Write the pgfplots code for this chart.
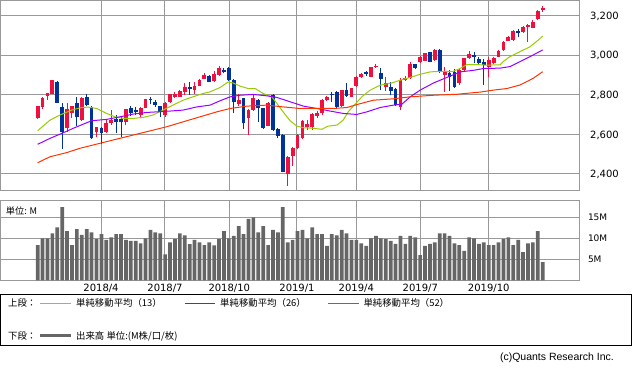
\documentclass[border=0pt]{standalone}
\usepackage{fontspec}
\setmainfont{DejaVu Sans}
\newfontfamily\jp{Noto Sans CJK JP}
\newfontfamily\lib{Liberation Sans}
\usepackage{pgfplots}
\usepackage{pgfplotstable}
\pgfplotsset{compat=1.18}
\definecolor{upred}{HTML}{F01040}
\definecolor{dnblue}{HTML}{003399}
\definecolor{maA}{HTML}{99CC00}
\definecolor{maB}{HTML}{9900FF}
\definecolor{maC}{HTML}{FF3300}
\definecolor{volc}{HTML}{666666}
\definecolor{gridc}{HTML}{999999}

\pgfplotstableread{
i o h l c
1 2681 2746 2679 2744
2 2740 2788 2730 2786
3 2796 2811 2774 2809
4 2806 2877 2804 2875
7 2631 2757 2612 2730
8 2707 2746 2681 2744
10 2673 2791 2668 2785
13 2612 2640 2585 2637
15 2612 2673 2609 2659
16 2656 2723 2648 2673
19 2664 2730 2647 2727
22 2698 2740 2681 2735
23 2735 2781 2733 2779
27 2697 2762 2690 2757
28 2762 2806 2760 2803
29 2791 2813 2783 2804
30 2791 2824 2789 2821
31 2816 2861 2800 2841
33 2824 2866 2805 2846
34 2846 2878 2843 2875
35 2880 2912 2878 2900
37 2870 2922 2866 2905
38 2900 2945 2897 2934
42 2752 2803 2745 2772
44 2681 2726 2597 2723
45 2723 2803 2720 2782
48 2644 2763 2641 2760
52 2398 2490 2341 2487
53 2492 2536 2442 2533
54 2533 2600 2525 2597
55 2580 2672 2575 2669
56 2639 2673 2622 2651
57 2636 2706 2622 2703
58 2693 2718 2683 2707
59 2710 2777 2700 2774
60 2774 2794 2771 2791
63 2744 2827 2741 2824
65 2791 2836 2788 2833
66 2845 2895 2842 2892
67 2889 2908 2886 2905
69 2892 2942 2889 2939
70 2939 2956 2936 2947
72 2838 2889 2821 2858
75 2740 2884 2723 2875
76 2875 2895 2872 2887
77 2884 2964 2880 2954
79 2964 2996 2960 2993
80 2973 3013 2970 3010
82 2976 3030 2973 3027
84 2900 2942 2816 2920
87 2858 2930 2852 2926
88 2926 2988 2920 2985
89 2985 3021 2982 3006
93 2942 2993 2889 2976
94 2959 2991 2956 2988
95 2993 3026 2990 3023
96 3027 3072 3024 3069
97 3074 3097 3071 3094
98 3077 3126 3074 3123
100 3116 3147 3113 3144
101 3144 3157 3069 3151
102 3139 3180 3136 3170
103 3182 3227 3179 3224
104 3229 3251 3220 3240
}\up

\pgfplotstableread{
i o h l c
5 2865 2870 2758 2760
6 2739 2760 2528 2612
9 2760 2791 2643 2686
11 2789 2803 2745 2749
12 2739 2742 2578 2583
14 2634 2637 2550 2606
17 2678 2698 2606 2663
18 2676 2690 2588 2661
20 2735 2744 2695 2707
21 2723 2740 2698 2712
24 2779 2791 2752 2772
25 2765 2774 2740 2749
26 2744 2746 2690 2715
32 2838 2863 2799 2829
36 2897 2900 2863 2866
39 2925 2934 2909 2917
40 2934 2942 2870 2875
41 2875 2878 2707 2765
43 2782 2786 2627 2656
46 2774 2777 2664 2732
47 2732 2735 2628 2631
49 2799 2803 2619 2622
50 2627 2630 2580 2594
51 2597 2600 2408 2412
61 2806 2816 2765 2801
62 2816 2819 2735 2740
64 2824 2858 2791 2796
68 2914 2920 2895 2905
71 2909 2934 2824 2879
73 2838 2867 2799 2821
74 2830 2833 2745 2749
78 2954 2957 2930 2934
81 3015 3018 2964 2967
83 3027 3030 2912 2917
85 2909 2926 2820 2892
86 2917 2930 2835 2841
90 3001 3018 2959 2990
91 2980 2990 2950 2959
92 2967 2980 2850 2950
99 3123 3131 3091 3111
}\dn

\pgfplotstableread{
i v
1 8.4
2 10.0
3 10.0
4 11.2
5 12.6
6 17.4
7 11.7
8 8.4
9 12.2
10 10.8
11 12.2
12 11.4
13 9.8
14 11.0
15 9.6
16 10.2
17 11.0
18 11.0
19 9.6
20 9.4
21 9.4
22 8.8
23 10.0
24 12.0
25 11.4
26 11.2
27 6.2
28 9.0
29 9.8
30 11.2
31 10.7
32 8.6
33 9.6
34 9.0
35 8.4
36 9.0
37 8.3
38 9.8
39 11.7
40 10.0
41 10.6
42 12.9
43 11.0
44 14.6
45 15.0
46 11.4
47 12.9
48 8.4
49 12.0
50 11.4
51 17.4
52 9.0
53 9.6
54 11.7
55 12.0
56 10.0
57 12.6
58 11.0
59 11.0
60 8.2
61 11.0
62 10.7
63 12.0
64 11.2
65 9.6
66 9.6
67 8.8
68 8.2
69 10.0
70 10.6
71 10.0
72 9.8
73 9.4
74 8.7
75 10.6
76 8.7
77 10.6
78 10.2
79 6.0
80 8.2
81 8.7
82 9.0
83 11.2
84 11.2
85 10.6
86 8.8
87 8.4
88 7.0
89 10.2
90 10.0
91 8.7
92 9.0
93 8.4
94 8.4
95 9.0
96 9.8
97 10.2
98 8.4
99 9.6
100 6.7
101 8.8
102 9.0
103 11.7
104 4.3
}\vol

\pgfplotsset{candle/.style={only marks, mark=none, mark size=0pt, mark options={draw=none, fill=none},
  error bars/.cd, y dir=plus, y explicit, error mark=none}}

\begin{document}
\begin{tikzpicture}
\useasboundingbox (0pt,0pt) rectangle (633pt,-371pt);
\begin{axis}[
  at={(0.5pt,-0.5pt)}, anchor=north west,
  scale only axis, width=578.8pt, height=190.2pt,
  xmin=-6.58, xmax=111.47, ymin=2315.6, ymax=3276.8,
  axis line style={draw=gridc, line width=1pt},
  grid=major, major grid style={draw=gridc, line width=1pt},
  xtick={13.92,26.97,40.08,53.89,65.99,79.04,93.0},
  xticklabels={},
  ytick={2400,2600,2800,3000,3200},
  yticklabel pos=right,
  major tick length=0pt,
  yticklabel style={anchor=base west, inner sep=0pt, xshift=10.7pt, yshift=-3.6pt, font=\fontsize{10}{12}\selectfont},
  /pgf/number format/assume math mode=true,
  /pgf/number format/1000 sep={,},
  scaled y ticks=false,
  clip=true,
]
\addplot[upred, candle, error bar style={line width=1pt, draw=upred}]
  table[x=i, y=l, y error expr=\thisrow{h}-\thisrow{l}] {\up};
\addplot[upred, candle, error bar style={line width=3.8pt, draw=upred}]
  table[x=i, y=o, y error expr=\thisrow{c}-\thisrow{o}] {\up};
\addplot[dnblue, candle, error bar style={line width=1pt, draw=dnblue}]
  table[x=i, y=l, y error expr=\thisrow{h}-\thisrow{l}] {\dn};
\addplot[dnblue, candle, error bar style={line width=3.8pt, draw=dnblue}]
  table[x=i, y=c, y error expr=\thisrow{o}-\thisrow{c}] {\dn};
\addplot[maA, mark=none, line width=1pt] coordinates {
(1,2619) (3.5,2672) (5.55,2698) (7.94,2723) (9.98,2736) (11.27,2738) (13.04,2731) (15.08,2706) (16.78,2689) (18.47,2681) (20.45,2681) (22.49,2686) (24.53,2698) (26.57,2723) (28.61,2748) (30.65,2773) (32.69,2790) (34.73,2807) (36.16,2815) (38.2,2837) (39.84,2865) (40.86,2860) (42.29,2844) (43.92,2832) (45.35,2832) (46.98,2807) (48.76,2790) (49.78,2757) (51.06,2714) (52.49,2669) (53.86,2642) (55.14,2634) (57.18,2631) (58.96,2626) (60.24,2642) (62.02,2647) (63.31,2672) (64.33,2714) (65.76,2753) (67.12,2790) (68.82,2824) (70.86,2849) (73.24,2860) (74.94,2874) (76.98,2888) (79.02,2904) (81.06,2916) (83.1,2919) (85.73,2919) (87.16,2933) (88.55,2953) (90.59,2953) (92.63,2950) (95.33,2952) (96,2969) (97.3,2993) (99.35,3018) (101.4,3043) (103.1,3077) (104,3097)};
\addplot[maB, mark=none, line width=1pt] coordinates {
(1,2550) (3.5,2580) (5.9,2605) (8.27,2631) (10.3,2652) (12,2669) (15.08,2676) (17.8,2689) (20.5,2703) (23.24,2711) (25.29,2714) (28,2718) (30.65,2723) (33.45,2739) (36.16,2748) (38.2,2770) (40.25,2790) (42.29,2798) (44.94,2802) (47.73,2795) (49.78,2787) (52.49,2765) (55.2,2743) (57.94,2731) (60.65,2718) (63.31,2706) (66.1,2701) (68.14,2714) (70.86,2736) (73.57,2748) (75.29,2753) (76.98,2790) (79.02,2824) (81.73,2860) (84.47,2888) (87.16,2916) (89.9,2924) (91.94,2933) (95.33,2935) (97.37,2943) (99.41,2968) (102.1,3002) (104,3027)};
\addplot[maC, mark=none, line width=1pt] coordinates {
(1,2457) (3.5,2487) (6.92,2508) (9.63,2530) (13.04,2551) (16.43,2572) (20.51,2597) (24.59,2622) (27.33,2639) (30.71,2664) (34.12,2689) (37.53,2714) (40.24,2731) (43.65,2743) (47.73,2748) (51.12,2739) (54.53,2731) (58.61,2731) (61.33,2731) (64.06,2736) (66.43,2753) (69.49,2773) (73.57,2780) (76.98,2790) (81.73,2798) (86.51,2803) (91.27,2814) (93.98,2824) (96.71,2832) (99.41,2850) (102.1,2884) (104,2917)};
\end{axis}

\begin{axis}[
  at={(0.5pt,-201pt)}, anchor=north west,
  scale only axis, width=578.8pt, height=79.3pt,
  xmin=-6.58, xmax=111.47, ymin=0, ymax=18.88,
  axis line style={draw=gridc, line width=1pt},
  grid=major, major grid style={draw=gridc, line width=1pt},
  xtick={13.92,26.97,40.08,53.89,65.99,79.04,93.0},
  xticklabels={2018/4,2018/7,2018/10,2019/1,2019/4,2019/7,2019/10},
  xticklabel style={anchor=base, inner sep=0pt, yshift=-11pt, font=\fontsize{10}{12}\selectfont},
  ytick={5,10,15}, yticklabels={5M,10M,15M},
  yticklabel pos=right,
  major tick length=0pt,
  yticklabel style={anchor=base west, inner sep=0pt, xshift=8.5pt, yshift=-3.2pt, font=\fontsize{9}{11}\selectfont},
]
\addplot[ybar, bar width=3.7pt, bar shift=0pt, fill=volc, draw=none] table[x=i, y=v] {\vol};
\node[anchor=west, inner sep=0pt, font=\jp\fontsize{9.2}{11}\selectfont] at (rel axis cs:0.009,0.88) {単位: M};
\end{axis}

% legend box
\draw[black, line width=1pt] (0.5pt,-295pt) rectangle (631.5pt,-346pt);
\begin{scope}[every node/.style={inner sep=0pt, anchor=west, font=\jp\fontsize{9.4}{11}\selectfont}]
\node at (8pt,-303.3pt) {上段：};
\draw[maA, line width=1pt] (40.4pt,-303.3pt) -- (70.7pt,-303.3pt);
\node at (76pt,-303.3pt) {単純移動平均（13）};
\draw[maB, line width=1pt] (184.5pt,-303.3pt) -- (214.8pt,-303.3pt);
\node at (220pt,-303.3pt) {単純移動平均（26）};
\draw[maC, line width=1pt] (327.8pt,-303.3pt) -- (358.5pt,-303.3pt);
\node at (363.3pt,-303.3pt) {単純移動平均（52）};
\node at (8pt,-336pt) {下段：};
\draw[volc, line width=3pt] (40.4pt,-336pt) -- (70.7pt,-336pt);
\node at (76pt,-336pt) {出来高 単位:(M株/口/枚)};
\end{scope}
\node[anchor=east, inner sep=0pt, font=\lib\fontsize{10.5}{12}\selectfont] at (614pt,-357.5pt) {(c)Quants Research Inc.};
\end{tikzpicture}
\end{document}
